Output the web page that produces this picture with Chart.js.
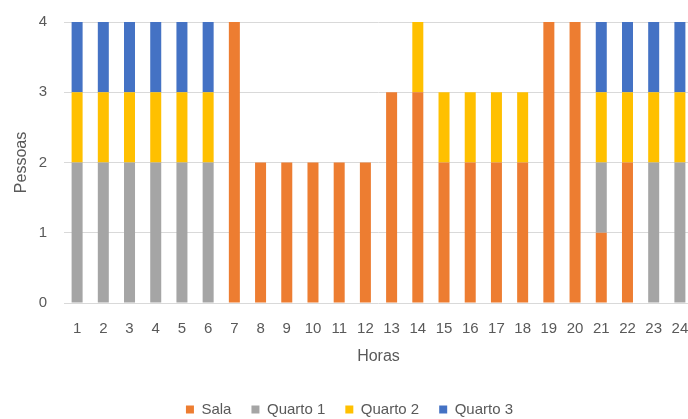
<!DOCTYPE html>
<html>
<head>
<meta charset="utf-8">
<script src="https://cdn.jsdelivr.net/npm/chart.js@4"></script>
<style>
    html, body { margin: 0; padding: 0; background: #fff; overflow: hidden; }
    .wrap { width: 706px; height: 431px; margin-top: -4px; }
</style>
</head>
<body>
<div class="wrap"><canvas id="occupancyChart" width="706" height="431"></canvas></div>
<script>
// Horas do dia
const hours = ['1','2','3','4','5','6','7','8','9','10','11','12','13','14','15','16','17','18','19','20','21','22','23','24'];

// Pessoas por divisão
const sala    = [0,0,0,0,0,0,4,2,2,2,2,2,3,3,2,2,2,2,4,4,1,2,0,0];
const quarto1 = [2,2,2,2,2,2,0,0,0,0,0,0,0,0,0,0,0,0,0,0,1,0,2,2];
const quarto2 = [1,1,1,1,1,1,0,0,0,0,0,0,0,1,1,1,1,1,0,0,1,1,1,1];
const quarto3 = [1,1,1,1,1,1,0,0,0,0,0,0,0,0,0,0,0,0,0,0,1,1,1,1];

const yTicks = [0, 1, 2, 3, 4];

const textColor = '#595959';
const family = 'Liberation Sans, Arial, sans-serif';

function bar(label, data, color) {
    return {
        label: label,
        data: data,
        backgroundColor: color,
        borderWidth: 0,
        barPercentage: 0.42,
        categoryPercentage: 1.0
    };
}

const ctx = document.getElementById('occupancyChart').getContext('2d');
const chart = new Chart(ctx, {
    type: 'bar',
    data: {
        labels: hours,
        datasets: [
            bar('Sala', sala, '#ED7D31'),
            bar('Quarto 1', quarto1, '#A5A5A5'),
            bar('Quarto 2', quarto2, '#FFC000'),
            bar('Quarto 3', quarto3, '#4472C4')
        ]
    },
    options: {
        responsive: false,
        animation: false,
        layout: { padding: { top: 13, left: 6, right: 13, bottom: 0 } },
        plugins: {
            legend: {
                position: 'bottom',
                labels: {
                    color: textColor,
                    font: { family: family, size: 15 },
                    boxWidth: 8,
                    boxHeight: 8,
                    padding: 20
                }
            },
            tooltip: { enabled: false }
        },
        scales: {
            x: {
                stacked: true,
                afterFit: (axis) => { axis.height = 79; },
                grid: { display: false, drawTicks: false },
                border: { display: false },
                ticks: { color: textColor, font: { family: family, size: 15 }, padding: 17, maxRotation: 0 },
                title: { display: true, text: 'Horas', color: textColor, font: { family: family, size: 16 }, padding: { top: 0, bottom: 16 } }
            },
            y: {
                stacked: true,
                min: 0,
                max: 4,
                afterBuildTicks: (axis) => { axis.ticks = yTicks.map(v => ({ value: v })); },
                afterFit: (axis) => { axis.width = 58; },
                grid: { color: '#d9d9d9', drawTicks: false },
                border: { display: false },
                ticks: { color: textColor, font: { family: family, size: 15 }, padding: 17 },
                title: { display: true, text: 'Pessoas', color: textColor, font: { family: family, size: 16 }, padding: { top: 6, bottom: 4 } }
            }
        }
    }
});
</script>
</body>
</html>
